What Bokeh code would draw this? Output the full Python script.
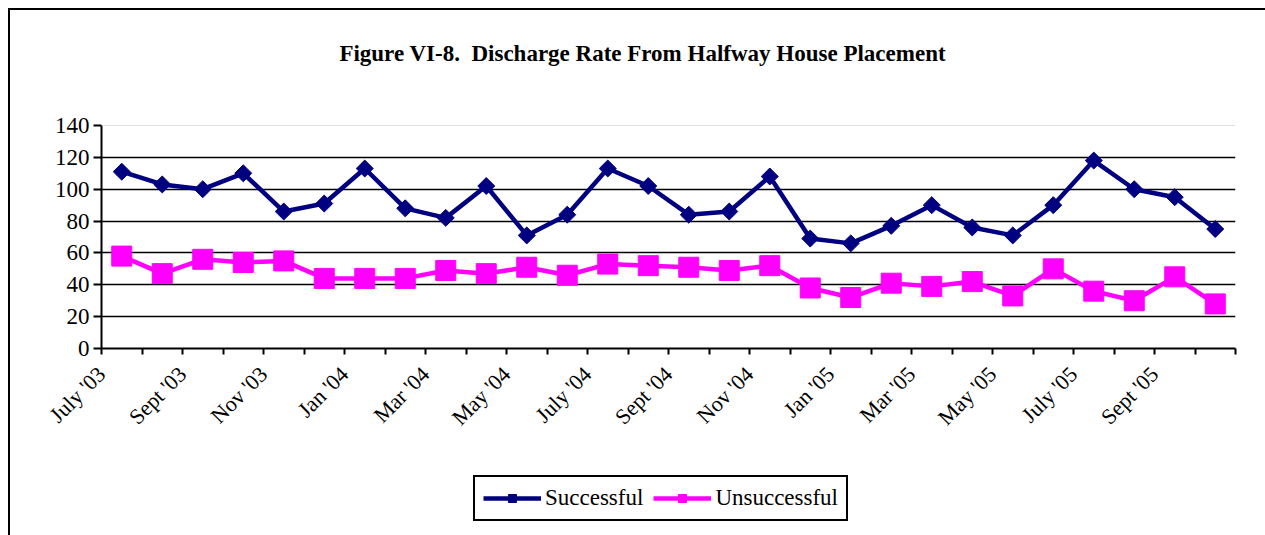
from bokeh.plotting import figure
from bokeh.models import (Range1d, FixedTicker, Legend, LegendItem, Span,
                          ColumnDataSource, Div)
from bokeh.layouts import column
from bokeh.embed import file_html
from bokeh.resources import INLINE
from math import pi

title_text = "Figure VI-8.&nbsp; Discharge Rate From Halfway House Placement"
months = ["July '03", "Aug '03", "Sept '03", "Oct '03", "Nov '03", "Dec '03",
          "Jan '04", "Feb '04", "Mar '04", "Apr '04", "May '04", "June '04",
          "July '04", "Aug '04", "Sept '04", "Oct '04", "Nov '04", "Dec '04",
          "Jan '05", "Feb '05", "Mar '05", "Apr '05", "May '05", "June '05",
          "July '05", "Aug '05", "Sept '05", "Oct '05"]
successful = [111, 103, 100, 110, 86, 91, 113, 88, 82, 102, 71, 84, 113, 102,
              84, 86, 108, 69, 66, 77, 90, 76, 71, 90, 118, 100, 95, 75]
unsuccessful = [58, 47, 56, 54, 55, 44, 44, 44, 49, 47, 51, 46, 53, 52,
                51, 49, 52, 38, 32, 41, 39, 42, 33, 50, 36, 30, 45, 28]
series_names = ["Successful", "Unsuccessful"]
y_ticks = [0, 20, 40, 60, 80, 100, 120, 140]

SERIF = "Liberation Serif"
NAVY = "#000080"
MAG = "#ff00ff"
xs = list(range(len(months)))

# title strip
title = Div(text=title_text, width=1255, height=86,
            styles={"font-family": SERIF, "font-weight": "bold",
                    "font-size": "23px", "color": "black",
                    "text-align": "center", "line-height": "78px"})

p = figure(frame_width=1134, frame_height=223, output_backend="svg",
           toolbar_location=None, title_location=None,
           min_border_left=91, min_border_right=30,
           min_border_top=19, min_border_bottom=117,
           x_range=Range1d(-0.5, len(months) - 0.5), y_range=Range1d(0, 140),
           background_fill_color="white", border_fill_color="white")
p.outline_line_color = None
xaxis = p.xaxis[0]
yaxis = p.yaxis[0]

# grid
p.xgrid.visible = False
p.ygrid.ticker = FixedTicker(ticks=y_ticks[1:-1])
p.ygrid.grid_line_color = "black"
p.ygrid.grid_line_width = 1.5
p.add_layout(Span(location=y_ticks[-1], dimension="width", line_color="#c0c0c0", line_width=1))

# y axis
yaxis.ticker = FixedTicker(ticks=y_ticks)
yaxis.axis_line_color = "black"
yaxis.axis_line_width = 2
yaxis.major_tick_line_width = 2
yaxis.major_tick_out = 8
yaxis.major_tick_in = 0
yaxis.minor_tick_line_color = None
yaxis.major_label_text_font = SERIF
yaxis.major_label_text_font_size = "23px"
yaxis.major_label_text_color = "black"
yaxis.major_label_standoff = 4

# x axis: ticks on category boundaries, labels every other month
bounds = [i - 0.5 for i in range(len(months) + 1)]
xaxis.ticker = FixedTicker(ticks=bounds)
xaxis.major_label_overrides = {
    b: (months[i] if (i < len(months) and i % 2 == 0) else "")
    for i, b in enumerate(bounds)}
xaxis.major_label_orientation = pi / 4
xaxis.axis_line_color = "black"
xaxis.axis_line_width = 2
xaxis.major_tick_line_width = 2
xaxis.major_tick_out = 6
xaxis.major_tick_in = 0
xaxis.minor_tick_line_color = None
xaxis.major_label_text_font = SERIF
xaxis.major_label_text_font_size = "22px"
xaxis.major_label_text_color = "black"
xaxis.major_label_standoff = 16

# series
p.line(xs, successful, line_color=NAVY, line_width=4.5)
p.scatter(xs, successful, marker="square", angle=pi / 4, size=12,
          fill_color=NAVY, line_color=NAVY)
p.line(xs, unsuccessful, line_color=MAG, line_width=4.5)
p.scatter(xs, unsuccessful, marker="square", size=20,
          fill_color=MAG, line_color=MAG)

# legend strip below the chart (legend keys only, no data drawn)
lg = figure(width=1255, height=80, output_backend="svg", toolbar_location=None,
            x_axis_type=None, y_axis_type=None, min_border=0,
            x_range=Range1d(0, 1), y_range=Range1d(0, 1),
            background_fill_color="white", border_fill_color="white")
lg.outline_line_color = None
lg.grid.visible = False
key_src = ColumnDataSource(data=dict(x=[float("nan")], y=[float("nan")]))
k1 = lg.line("x", "y", source=key_src, line_color=NAVY, line_width=4.5)
k1m = lg.scatter("x", "y", source=key_src, marker="square", angle=pi / 4, size=14,
                 fill_color=NAVY, line_color=NAVY)
k2 = lg.line("x", "y", source=key_src, line_color=MAG, line_width=4.5)
k2m = lg.scatter("x", "y", source=key_src, marker="square", size=20,
                 fill_color=MAG, line_color=MAG)
legend = Legend(items=[LegendItem(label=series_names[0], renderers=[k1, k1m]),
                       LegendItem(label=series_names[1], renderers=[k2, k2m])],
                orientation="horizontal", location=(372, 24),
                border_line_color="black", border_line_width=2,
                border_line_alpha=1,
                background_fill_color="white", background_fill_alpha=1,
                label_text_font=SERIF, label_text_font_size="23px",
                label_text_color="black", glyph_width=58, glyph_height=20,
                label_height=26, label_standoff=4, spacing=10, padding=8,
                margin=0)
lg.add_layout(legend, "center")

layout = column(title, p, lg, spacing=0)
layout.styles = {"border-top": "2px solid black", "border-left": "2px solid black",
                 "margin-left": "8px", "margin-top": "8px"}

open("out.html", "w").write(file_html(layout, INLINE))
